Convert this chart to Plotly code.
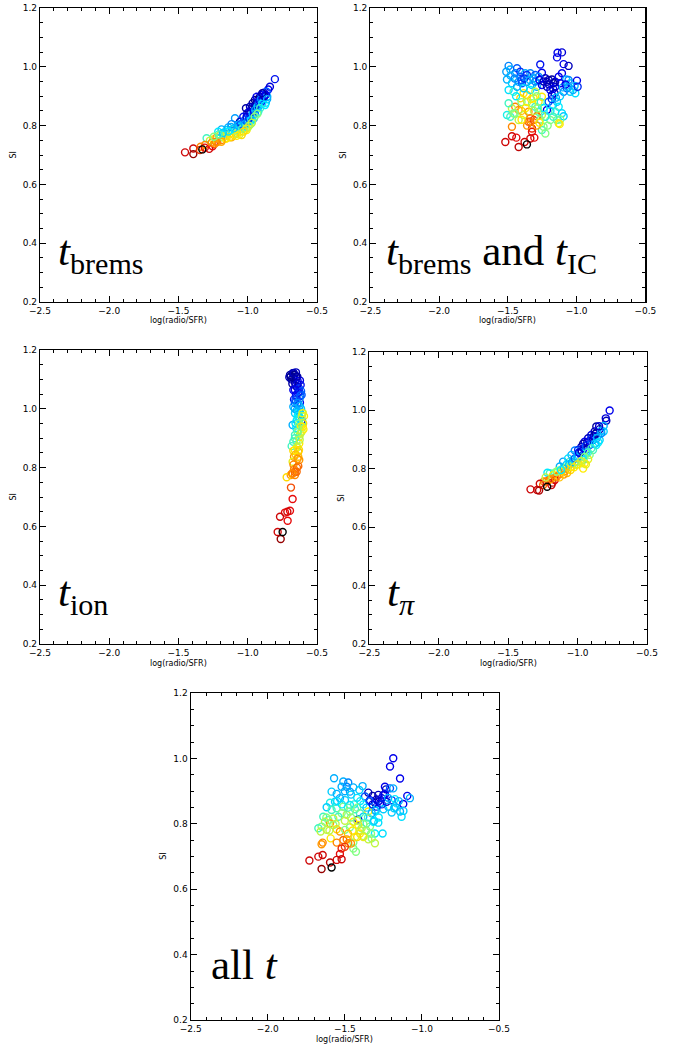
import plotly.graph_objects as go

# ---------------- data ----------------
x_ticks = [-2.5, -2.0, -1.5, -1.0, -0.5]
y_ticks = [0.2, 0.4, 0.6, 0.8, 1.0, 1.2]
x_title = "log(radio/SFR)"
y_title = "SI"

labels = [
    "<i>t</i><sub>brems</sub>",
    "<i>t</i><sub>brems</sub> and <i>t</i><sub>IC</sub>",
    "<i>t</i><sub>ion</sub>",
    "<i>t</i><sub><i>π</i></sub>",
    "all <i>t</i>",
]

# panel 1 : t_brems
x1 = [-1.453,-1.393,-1.393,-1.340,-1.345,-1.278,-1.254,-1.244,-1.220,-1.189,
      -1.297,-1.273,-1.249,-1.225,-1.177,-1.165,-1.189,-1.153,-1.129,-1.117,
      -1.100,-1.092,-1.080,-1.056,-1.044,-1.056,-1.032,-1.020,-1.008,-0.996,
      -0.984,-0.989,-0.972,-0.960,-0.948,-0.936,-0.924,-0.912,-0.900,-0.888,
      -0.869,-0.859,-0.852,-0.840,-0.804,-0.972,-0.955,-1.032,-1.003,-1.013,
      -1.141,-1.117,-1.080,-1.044,-1.068,-1.020,-0.996,-0.979,-0.948,-0.931,
      -0.912,-0.924,-0.965,-0.948,-0.900,-1.008,-1.201,-1.213,-1.153,-1.092,
      -1.309,-1.237,-1.032,-1.056,-0.984,-0.883,-0.936,-0.864,-1.117,-1.165,
      -1.100,-1.070,-1.050,-1.040,-1.020,-1.000,-0.990,-0.980,-0.975,-0.965,
      -0.955,-0.945,-0.940,-0.930,-0.920,-0.915,-0.905,-0.895,-0.910,-0.930,
      -0.950,-0.970,-0.990,-1.010,-1.030,-1.060,-1.080,-1.130,-1.160,-1.190,
      -1.230,-1.260,-1.310,-1.120,-1.140,-1.180,-1.210,-1.245,-0.880,-0.870,
      -0.895,-0.860,-0.875,-1.328]
y1 = [0.709,0.722,0.703,0.728,0.717,0.721,0.730,0.737,0.744,0.751,
      0.757,0.749,0.753,0.760,0.760,0.773,0.787,0.785,0.773,0.760,
      0.768,0.825,0.791,0.779,0.798,0.813,0.810,0.798,0.785,0.796,
      0.830,0.847,0.859,0.836,0.864,0.878,0.889,0.898,0.904,0.889,
      0.878,0.898,0.923,0.932,0.958,0.819,0.825,0.830,0.842,0.859,
      0.794,0.785,0.773,0.768,0.802,0.819,0.813,0.805,0.842,0.859,
      0.870,0.847,0.876,0.887,0.881,0.830,0.768,0.779,0.757,0.783,
      0.734,0.739,0.791,0.796,0.864,0.912,0.898,0.915,0.805,0.764,
      0.790,0.800,0.805,0.790,0.805,0.815,0.825,0.845,0.820,0.840,
      0.850,0.855,0.870,0.865,0.875,0.885,0.890,0.875,0.860,0.840,
      0.830,0.810,0.800,0.790,0.780,0.770,0.765,0.760,0.755,0.745,
      0.745,0.742,0.725,0.795,0.780,0.775,0.770,0.762,0.900,0.905,
      0.910,0.890,0.870,0.719]
c1 = [0.88,0.88,0.95,0.72,0.80,0.88,0.85,0.85,0.72,0.72,
      0.45,0.55,0.60,0.70,0.50,0.38,0.30,0.38,0.60,0.68,
      0.62,0.28,0.38,0.60,0.35,0.05,0.25,0.40,0.60,0.50,
      0.15,0.05,0.10,0.35,0.05,0.02,0.05,0.03,0.10,0.25,
      0.35,0.30,0.10,0.08,0.12,0.35,0.28,0.12,0.10,0.02,
      0.30,0.45,0.55,0.62,0.30,0.20,0.35,0.45,0.25,0.20,
      0.30,0.40,0.02,0.00,0.15,0.08,0.55,0.40,0.62,0.45,
      0.72,0.70,0.50,0.40,0.05,0.08,0.10,0.20,0.25,0.58,
      0.35,0.30,0.20,0.45,0.30,0.25,0.15,0.08,0.40,0.30,
      0.10,0.30,0.05,0.35,0.20,0.10,0.25,0.40,0.45,0.50,
      0.50,0.55,0.55,0.58,0.62,0.58,0.60,0.62,0.60,0.68,
      0.72,0.72,0.85,0.30,0.40,0.35,0.45,0.50,0.05,0.10,
      0.03,0.30,0.40,1.00]

# panel 2 : t_brems and t_IC
x2 = [-1.138,-1.106,-1.142,-1.264,-1.094,-1.058,-1.494,-1.511,-1.482,-1.433,
      -1.409,-1.373,-1.336,-1.300,-1.252,-1.227,-1.203,-1.179,-1.155,-1.130,
      -1.106,-1.075,-1.046,-0.997,-1.014,-1.070,-1.046,-1.009,-1.094,-1.506,
      -1.470,-1.494,-1.458,-1.433,-1.397,-1.361,-1.324,-1.288,-1.252,-1.215,
      -1.191,-1.179,-1.203,-1.215,-1.172,-1.142,-1.130,-1.155,-1.106,-1.094,
      -1.118,-1.130,-1.191,-1.227,-1.252,-1.276,-1.300,-1.324,-1.312,-1.276,
      -1.252,-1.361,-1.385,-1.409,-1.446,-1.421,-1.470,-1.494,-1.506,-1.482,
      -1.458,-1.421,-1.385,-1.349,-1.336,-1.312,-1.349,-1.288,-1.264,-1.240,
      -1.252,-1.227,-1.142,-1.123,-1.518,-1.470,-1.438,-1.421,-1.378,-1.336,
      -1.307,-1.324,-1.324,-1.470,-1.336,-1.361,-1.312,-1.276,-1.409,
      -1.446,-1.421,-1.336,-1.300,-1.385,-1.155,-1.118,-1.167,-1.215,-1.058,
      -1.026,-0.992,
      -1.480,-1.450,-1.400,-1.380,-1.340,-1.300,-1.270,-1.240,-1.200,-1.170,
      -1.160,-1.180,-1.150,-1.120,-1.100,-1.080,-1.060,-1.440,-1.400,-1.360,
      -1.330,-1.290,-1.260,-1.240,-1.370,-1.400,-1.450,-1.310,-1.280,-1.190,
      -1.210,-1.170,-1.400,-1.360,-1.290,-1.270,-1.361]
y2 = [1.048,1.049,1.032,1.008,1.009,1.003,1.003,0.983,0.991,0.995,
      0.983,0.978,0.978,0.972,0.980,0.961,0.955,0.957,0.949,0.966,
      0.978,0.957,0.944,0.953,0.935,0.927,0.915,0.910,0.915,0.957,
      0.944,0.921,0.915,0.932,0.944,0.949,0.938,0.932,0.938,0.932,
      0.921,0.904,0.881,0.853,0.870,0.881,0.864,0.847,0.842,0.832,
      0.821,0.808,0.819,0.830,0.836,0.847,0.864,0.876,0.893,0.881,
      0.898,0.904,0.910,0.893,0.864,0.853,0.858,0.876,0.836,0.830,
      0.842,0.819,0.836,0.847,0.825,0.819,0.813,0.832,0.821,0.796,
      0.785,0.773,0.819,0.805,0.744,0.764,0.759,0.727,0.744,0.756,
      0.759,0.779,0.790,0.796,0.813,0.972,0.961,0.966,0.966,
      0.978,0.949,0.921,0.915,0.927,0.932,0.944,0.944,0.949,0.955,
      0.921,0.932,
      0.970,0.960,0.955,0.960,0.955,0.950,0.955,0.950,0.940,0.925,
      0.910,0.890,0.895,0.900,0.930,0.940,0.930,0.900,0.880,0.880,
      0.890,0.900,0.880,0.860,0.860,0.850,0.840,0.850,0.860,0.850,
      0.800,0.830,0.820,0.800,0.800,0.810,0.736]
c2 = [0.10,0.08,0.10,0.12,0.10,0.05,0.25,0.28,0.30,0.20,
      0.15,0.30,0.25,0.20,0.10,0.05,0.05,0.02,0.05,0.10,
      0.10,0.30,0.35,0.10,0.30,0.20,0.35,0.38,0.25,0.30,
      0.35,0.38,0.45,0.30,0.20,0.25,0.35,0.30,0.10,0.05,
      0.10,0.08,0.20,0.10,0.30,0.35,0.40,0.45,0.38,0.35,
      0.50,0.58,0.50,0.42,0.55,0.45,0.45,0.50,0.60,0.58,
      0.60,0.65,0.60,0.62,0.72,0.70,0.55,0.45,0.42,0.45,
      0.50,0.55,0.55,0.70,0.72,0.80,0.75,0.75,0.50,0.50,
      0.45,0.50,0.48,0.60,0.88,0.88,0.85,0.90,0.88,0.88,
      0.85,0.85,0.82,0.72,0.75,0.15,0.30,0.25,0.20,
      0.25,0.28,0.40,0.55,0.35,0.08,0.10,0.02,0.05,0.25,
      0.30,0.15,
      0.30,0.25,0.20,0.15,0.30,0.25,0.10,0.05,0.05,0.10,
      0.05,0.15,0.30,0.35,0.30,0.10,0.30,0.40,0.50,0.55,
      0.60,0.50,0.45,0.40,0.60,0.65,0.50,0.55,0.50,0.40,
      0.50,0.45,0.60,0.70,0.70,0.60,1.00]

# panel 3 : t_ion
x3 = [-0.695,-0.676,-0.652,-0.642,-0.671,-0.700,-0.623,-0.659,-0.618,-0.642,
      -0.671,-0.628,-0.611,-0.652,-0.666,-0.623,-0.642,-0.671,-0.628,-0.659,
      -0.603,-0.594,-0.628,-0.611,-0.647,-0.676,-0.623,-0.603,-0.611,-0.635,
      -0.659,-0.628,-0.647,-0.671,-0.628,-0.683,-0.642,-0.671,-0.635,-0.666,
      -0.635,-0.676,-0.628,-0.635,-0.666,-0.676,-0.659,-0.690,-0.719,-0.647,
      -0.688,-0.676,-0.695,-0.714,-0.731,-0.767,-0.712,-0.784,-0.762,
      -0.685,-0.662,-0.640,-0.655,-0.630,-0.678,-0.615,-0.648,-0.625,-0.660,
      -0.615,-0.645,-0.635,-0.605,-0.650,-0.620,-0.600,-0.598,
      -0.690,-0.668,-0.650,-0.640,-0.660,-0.638,-0.620,-0.655,-0.640,-0.625,
      -0.660,-0.640,-0.625,-0.655,-0.630,-0.610,-0.605,-0.615,-0.640,-0.660,
      -0.625,-0.645,-0.660,-0.630,-0.655,-0.640,-0.670,-0.645,-0.660,-0.680,
      -0.748]
y3 = [1.115,1.121,1.124,1.109,1.104,1.107,1.096,1.089,1.081,1.073,
      1.064,1.058,1.047,1.047,1.032,1.021,1.013,1.007,0.998,0.985,
      0.987,0.975,0.973,0.960,0.960,0.945,0.945,0.939,0.922,0.928,
      0.911,0.905,0.892,0.888,0.882,0.873,0.869,0.857,0.854,0.837,
      0.837,0.820,0.826,0.805,0.794,0.780,0.775,0.775,0.767,0.786,
      0.732,0.693,0.653,0.650,0.647,0.633,0.619,0.581,0.557,
      1.100,1.115,1.095,1.078,1.070,1.085,1.060,1.040,1.035,1.020,
      1.000,0.995,0.985,0.955,0.935,0.915,0.950,0.930,
      1.110,1.122,1.110,1.085,1.065,1.055,1.045,1.030,1.020,1.010,
      1.000,0.975,0.965,0.950,0.950,0.975,0.985,0.940,0.920,0.900,
      0.895,0.870,0.860,0.860,0.845,0.830,0.810,0.800,0.785,0.780,
      0.581]
c3 = [0.02,0.03,0.05,0.03,0.00,0.05,0.08,0.05,0.12,0.08,
      0.10,0.15,0.20,0.10,0.12,0.10,0.25,0.30,0.30,0.35,
      0.55,0.60,0.38,0.05,0.40,0.30,0.48,0.60,0.58,0.50,
      0.45,0.55,0.50,0.45,0.60,0.45,0.58,0.62,0.68,0.70,
      0.65,0.58,0.70,0.75,0.72,0.75,0.72,0.70,0.62,0.75,
      0.78,0.85,0.85,0.88,0.85,0.88,0.85,0.88,0.95,
      0.03,0.00,0.10,0.05,0.15,0.02,0.20,0.15,0.25,0.20,
      0.35,0.30,0.40,0.45,0.40,0.55,0.62,0.60,
      0.00,0.05,0.02,0.08,0.10,0.12,0.20,0.18,0.25,0.30,
      0.30,0.40,0.42,0.38,0.50,0.55,0.58,0.60,0.48,0.45,
      0.55,0.55,0.60,0.62,0.65,0.70,0.72,0.75,0.75,0.72,
      1.00]

# panel 4 : t_pi
x4 = [-0.769,-0.797,-0.793,-0.812,-0.865,-0.841,-0.812,-0.877,-0.901,-0.853,
      -0.924,-0.889,-0.841,-0.949,-0.913,-0.865,-0.972,-0.937,-0.889,-1.020,
      -0.984,-0.949,-0.913,-0.924,-0.960,-0.996,-1.032,-1.056,-1.104,-1.080,
      -1.008,-0.972,-0.949,-1.044,-1.104,-1.128,-1.140,-1.092,-1.068,-1.164,
      -1.200,-1.217,-1.176,-1.128,-1.148,-1.116,-1.164,-1.181,-1.205,-1.224,
      -1.243,-1.272,-1.248,-1.291,-1.339,-1.277,-1.188,-0.996,-1.044,-1.068,
      -0.984,-1.020,-0.937,-0.877,-0.829,-0.960,
      -1.100,-1.080,-1.060,-1.040,-1.020,-1.000,-0.990,-0.970,-0.955,-0.940,
      -0.930,-0.915,-0.900,-0.885,-0.870,-0.860,-0.850,-0.875,-0.900,-0.925,
      -0.950,-0.975,-1.000,-1.025,-1.050,-1.075,-1.100,-1.130,-1.160,-1.190,
      -1.230,-1.150,-1.120,-0.960,-0.940,-0.830,-0.845,-1.219]
y4 = [0.999,0.972,0.964,0.946,0.944,0.935,0.927,0.927,0.915,0.912,
      0.904,0.898,0.898,0.892,0.881,0.881,0.875,0.866,0.864,0.862,
      0.853,0.847,0.847,0.832,0.830,0.835,0.830,0.824,0.824,0.813,
      0.813,0.818,0.818,0.807,0.801,0.807,0.793,0.792,0.798,0.786,
      0.784,0.786,0.778,0.782,0.773,0.790,0.761,0.752,0.761,0.756,
      0.756,0.748,0.744,0.727,0.729,0.725,0.744,0.864,0.847,0.835,
      0.858,0.821,0.855,0.912,0.921,0.885,
      0.800,0.805,0.815,0.822,0.835,0.840,0.855,0.860,0.870,0.878,
      0.890,0.895,0.905,0.910,0.920,0.905,0.890,0.885,0.870,0.855,
      0.840,0.825,0.815,0.805,0.795,0.785,0.780,0.770,0.770,0.765,
      0.770,0.790,0.795,0.800,0.815,0.930,0.945,0.738]
c4 = [0.10,0.08,0.05,0.30,0.02,0.05,0.35,0.05,0.08,0.30,
      0.05,0.10,0.35,0.10,0.20,0.40,0.05,0.15,0.45,0.25,
      0.05,0.35,0.50,0.58,0.40,0.30,0.35,0.45,0.28,0.35,
      0.55,0.58,0.60,0.60,0.45,0.30,0.55,0.70,0.62,0.50,
      0.45,0.40,0.60,0.72,0.72,0.60,0.85,0.88,0.72,0.75,
      0.72,0.88,0.75,0.88,0.88,0.92,0.88,0.15,0.30,0.38,
      0.25,0.45,0.40,0.12,0.25,0.02,
      0.30,0.50,0.35,0.30,0.20,0.30,0.10,0.05,0.10,0.20,
      0.05,0.10,0.15,0.05,0.02,0.30,0.40,0.35,0.45,0.45,
      0.50,0.55,0.58,0.60,0.62,0.65,0.70,0.65,0.72,0.70,
      0.55,0.50,0.40,0.60,0.58,0.30,0.08,1.00]

# panel 5 : all t
x5 = [-1.186,-1.207,-1.142,-1.570,-1.510,-1.478,-1.488,-1.521,-1.445,-1.385,
      -1.406,-1.586,-1.553,-1.467,-1.348,-1.320,-1.294,-1.261,-1.240,-1.233,
      -1.207,-1.186,-1.250,-1.283,-1.305,-1.272,-1.229,-1.196,-1.175,-1.164,
      -1.181,-1.142,-1.121,-1.095,-1.078,-1.132,-1.218,-1.250,-1.294,-1.305,
      -1.326,-1.348,-1.413,-1.380,-1.402,-1.434,-1.467,-1.499,-1.532,-1.564,
      -1.596,-1.618,-1.586,-1.553,-1.510,-1.467,-1.488,-1.521,-1.542,-1.575,
      -1.607,-1.640,-1.596,-1.629,-1.651,-1.672,-1.657,-1.618,-1.575,-1.553,
      -1.532,-1.499,-1.467,-1.445,-1.413,-1.391,-1.359,-1.337,-1.315,-1.283,
      -1.255,-1.305,-1.326,-1.305,-1.348,-1.380,-1.402,-1.434,-1.445,-1.428,
      -1.445,-1.592,-1.488,-1.510,-1.478,-1.644,-1.651,-1.553,-1.521,-1.532,
      -1.521,-1.553,-1.596,-1.672,-1.644,-1.730,-1.651,-1.369,-1.337,-1.196,
      -1.500,-1.460,-1.420,-1.400,-1.440,-1.480,-1.520,-1.550,-1.420,-1.380,
      -1.360,-1.340,-1.320,-1.280,-1.260,-1.300,-1.350,-1.380,-1.420,-1.460,
      -1.500,-1.450,-1.400,-1.360,-1.330,-1.380,-1.420,-1.480,-1.560,-1.600,
      -1.620,-1.240,-1.220,-1.170,-1.150,-1.120,-1.310,-1.280,-1.460,-1.500,
      -1.586]
y5 = [1.001,0.976,0.939,0.940,0.930,0.927,0.914,0.914,0.912,0.916,
      0.904,0.899,0.892,0.899,0.896,0.886,0.875,0.879,0.914,0.906,
      0.909,0.909,0.889,0.889,0.865,0.863,0.868,0.873,0.876,0.863,
      0.848,0.838,0.861,0.886,0.879,0.822,0.853,0.845,0.853,0.843,
      0.833,0.838,0.814,0.822,0.833,0.845,0.858,0.873,0.879,0.868,
      0.865,0.851,0.843,0.848,0.853,0.838,0.828,0.833,0.822,0.817,
      0.812,0.822,0.802,0.807,0.792,0.787,0.777,0.782,0.797,0.784,
      0.777,0.782,0.790,0.807,0.797,0.787,0.802,0.792,0.807,0.804,
      0.771,0.771,0.756,0.741,0.753,0.763,0.771,0.759,0.743,0.715,
      0.725,0.756,0.753,0.751,0.741,0.743,0.738,0.743,0.725,0.708,
      0.692,0.690,0.682,0.700,0.705,0.688,0.662,0.884,0.873,0.835,
      0.900,0.890,0.880,0.870,0.860,0.850,0.860,0.870,0.850,0.860,
      0.850,0.870,0.860,0.870,0.860,0.840,0.820,0.800,0.810,0.820,
      0.810,0.780,0.780,0.780,0.770,0.760,0.760,0.770,0.800,0.780,
      0.820,0.890,0.880,0.850,0.870,0.840,0.810,0.820,0.740,0.730,
      0.667]
c5 = [0.10,0.10,0.10,0.30,0.30,0.25,0.25,0.30,0.30,0.30,
      0.35,0.35,0.30,0.28,0.05,0.02,0.05,0.08,0.10,0.05,
      0.20,0.30,0.10,0.05,0.00,0.10,0.08,0.15,0.40,0.38,
      0.35,0.30,0.10,0.10,0.30,0.38,0.30,0.35,0.15,0.40,
      0.30,0.60,0.05,0.35,0.45,0.45,0.40,0.35,0.30,0.35,
      0.42,0.35,0.45,0.45,0.50,0.50,0.55,0.50,0.45,0.55,
      0.50,0.45,0.70,0.55,0.50,0.45,0.55,0.55,0.50,0.62,
      0.70,0.50,0.50,0.60,0.60,0.55,0.45,0.50,0.40,0.38,
      0.38,0.40,0.50,0.55,0.55,0.55,0.60,0.58,0.50,0.50,
      0.50,0.60,0.72,0.75,0.72,0.72,0.70,0.72,0.82,0.85,
      0.88,0.88,0.90,0.88,0.88,0.88,0.95,0.20,0.10,0.35,
      0.30,0.35,0.38,0.40,0.42,0.45,0.40,0.38,0.50,0.40,
      0.35,0.20,0.10,0.08,0.15,0.30,0.45,0.50,0.55,0.50,
      0.55,0.60,0.55,0.52,0.50,0.58,0.62,0.65,0.55,0.55,
      0.50,0.10,0.30,0.35,0.30,0.35,0.35,0.40,0.70,0.80,
      1.00]

panels_x = [x1, x2, x3, x4, x5]
panels_y = [y1, y2, y3, y4, y5]
panels_c = [c1, c2, c3, c4, c5]

# ---------------- layout geometry (pixels in the 674 x 1046 page) ----------------
W, H = 674, 1046


def fx(px):
    return px / W


def fy(py):
    return 1 - py / H


boxes = [  # left, right, top, bottom  (page pixels)
    (40.0, 317.0, 8.0, 302.0),
    (370.3, 645.3, 8.0, 302.0),
    (40.0, 317.0, 350.0, 644.0),
    (369.3, 647.0, 351.7, 644.0),
    (190.7, 499.0, 693.3, 1020.0),
]
label_pos = [(56, 254, 43), (384, 254, 43), (56, 595, 43), (385, 595, 43), (209, 964, 43)]

colorscale = [
    [0.00, "rgb(0,0,140)"],
    [0.10, "rgb(0,0,235)"],
    [0.20, "rgb(0,90,255)"],
    [0.30, "rgb(0,175,255)"],
    [0.40, "rgb(0,235,255)"],
    [0.50, "rgb(130,255,130)"],
    [0.60, "rgb(255,235,0)"],
    [0.72, "rgb(255,135,0)"],
    [0.85, "rgb(230,10,10)"],
    [0.95, "rgb(150,0,0)"],
    [0.97, "rgb(150,0,0)"],
    [1.00, "rgb(0,0,0)"],
]

serif = "Liberation Serif, Times New Roman, DejaVu Serif, serif"
sans = "DejaVu Sans, Verdana, sans-serif"

fig = go.Figure()
annotations = []
layout = dict(
    width=W, height=H, margin=dict(l=0, r=0, t=0, b=0, autoexpand=False),
    paper_bgcolor="white", plot_bgcolor="white", showlegend=False,
)

tickfont = dict(family=sans, size=9, color="black")
for i, (l, r, t, b) in enumerate(boxes):
    k = "" if i == 0 else str(i + 1)
    xdom = [fx(l), fx(r)]
    ydom = [fy(b), fy(t)]
    layout["xaxis" + k] = dict(
        domain=xdom, anchor="y" + k, range=[x_ticks[0], x_ticks[-1]],
        tickmode="linear", tick0=x_ticks[0], dtick=x_ticks[1] - x_ticks[0], tickformat=".1f",
        ticks="inside", ticklen=6, tickwidth=1, tickcolor="black",
        minor=dict(dtick=0.1, tick0=x_ticks[0], ticks="inside", ticklen=3, tickwidth=1,
                   tickcolor="black", showgrid=False),
        showline=True, linecolor="black", linewidth=1.2, mirror="allticks",
        showgrid=False, zeroline=False, tickfont=tickfont, automargin=False,
        ticklabeloverflow="allow",
    )
    layout["yaxis" + k] = dict(
        domain=ydom, anchor="x" + k, range=[y_ticks[0], y_ticks[-1]],
        tickmode="linear", tick0=y_ticks[0], dtick=y_ticks[1] - y_ticks[0], tickformat=".1f",
        ticks="inside", ticklen=6, tickwidth=1, tickcolor="black",
        minor=dict(dtick=0.05, tick0=y_ticks[0], ticks="inside", ticklen=3, tickwidth=1,
                   tickcolor="black", showgrid=False),
        showline=True, linecolor="black", linewidth=1.2, mirror="allticks",
        showgrid=False, zeroline=False, tickfont=tickfont, automargin=False,
        ticklabeloverflow="allow",
    )
    fig.add_trace(go.Scatter(
        x=panels_x[i], y=panels_y[i], mode="markers",
        xaxis="x" + k, yaxis="y" + k,
        marker=dict(symbol="circle-open", size=7, color=panels_c[i],
                    colorscale=colorscale, cmin=0, cmax=1, showscale=False,
                    line=dict(width=1.4)),
        hoverinfo="skip",
    ))
    # axis titles
    annotations.append(dict(
        text=x_title, xref="paper", yref="paper", x=fx((l + r) / 2), y=fy(b + 19),
        showarrow=False, xanchor="center", yanchor="middle",
        font=dict(family=sans, size=8, color="black"),
    ))
    annotations.append(dict(
        text=y_title, xref="paper", yref="paper", x=fx(l - 27.5), y=fy((t + b) / 2),
        showarrow=False, xanchor="center", yanchor="middle", textangle=-90,
        font=dict(family=sans, size=8, color="black"),
    ))
    lx, ly, fs = label_pos[i]
    annotations.append(dict(
        text=labels[i], xref="paper", yref="paper", x=fx(lx), y=fy(ly),
        showarrow=False, xanchor="left", yanchor="middle",
        font=dict(family=serif, size=fs, color="black"),
    ))

layout["annotations"] = annotations
fig.update_layout(**layout)
# remove the browser's default 8px body margin so the figure fills the window
fig.write_html("out.html",
               config={"displayModeBar": False, "staticPlot": True},
               post_script="document.body.style.margin='0';document.body.style.overflow='hidden';")
